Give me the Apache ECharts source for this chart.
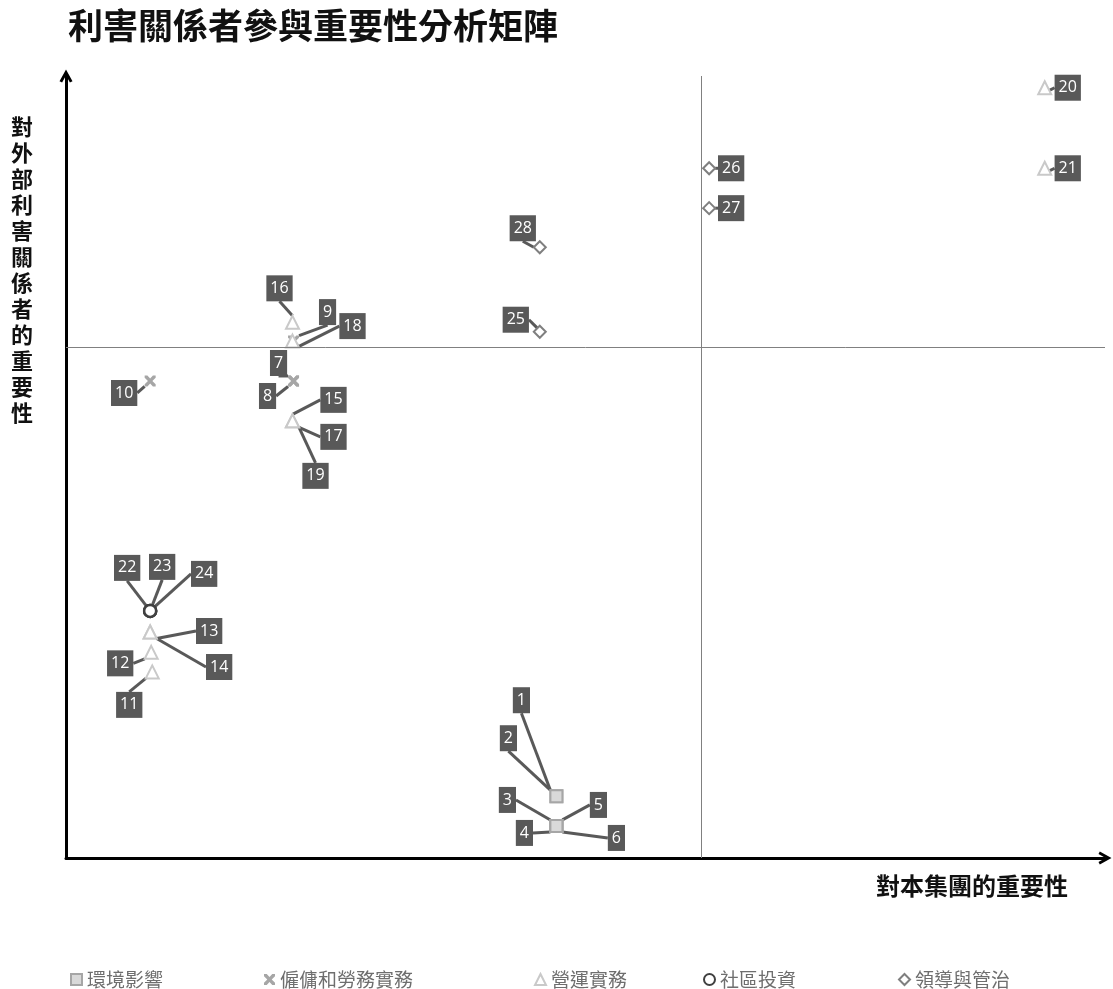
<!DOCTYPE html>
<html>
<head>
<meta charset="utf-8">
<script src="https://cdn.jsdelivr.net/npm/echarts@6/dist/echarts.min.js"></script>
<style>html,body{margin:0;padding:0;background:#fff;}#chart{width:1113px;height:989px;}</style>
</head>
<body>
<div id="chart"></div>
<script>
// ---- data (scores on a 0-10 scale) ----
const titleText = '利害關係者參與重要性分析矩陣';
const xAxisName = '對本集團的重要性';
const yAxisName = '對外部利害關係者的重要性';
const categories = ['環境影響', '僱傭和勞務實務', '營運實務', '社區投資', '領導與管治'];

const envIds = [1, 2, 3, 4, 5, 6];
const envX = [4.72, 4.72, 4.72, 4.72, 4.72, 4.72];
const envY = [0.79, 0.79, 0.41, 0.41, 0.41, 0.41];

const empIds = [7, 8, 9, 10];
const empX = [2.19, 2.19, 2.19, 0.81];
const empY = [6.10, 6.10, 6.61, 6.10];

const opsIds = [11, 12, 13, 14, 15, 16, 17, 18, 19, 20, 21];
const opsX = [0.83, 0.82, 0.81, 0.81, 2.18, 2.18, 2.18, 2.18, 2.18, 9.42, 9.42];
const opsY = [2.38, 2.63, 2.89, 2.89, 5.59, 6.85, 5.59, 6.61, 5.59, 9.85, 8.82];

const comIds = [22, 23, 24];
const comX = [0.81, 0.81, 0.81];
const comY = [3.16, 3.16, 3.16];

const govIds = [25, 26, 27, 28];
const govX = [4.56, 6.19, 6.19, 4.56];
const govY = [6.73, 8.82, 8.31, 7.81];

const xThreshold = 6.11;
const yThreshold = 6.53;

// ---- layout: callout label offsets (pixels from the point) ----
const calloutOffset = {
  1: [-35, -96], 2: [-48, -58], 3: [-49, -26], 4: [-32, 7], 5: [42, -21], 6: [60, 12],
  7: [-15, -18], 8: [-26, 15], 9: [34, -29], 10: [-26, 12],
  11: [-23, 33], 12: [-31, 11], 13: [59, -1], 14: [69, 35], 15: [41, -21], 16: [-13, -34],
  17: [41, 16], 18: [60, -15], 19: [23, 55], 20: [23, 0], 21: [23, 0],
  22: [-23, -43], 23: [12, -44], 24: [54, -37],
  25: [-24, -12], 26: [22, 0], 27: [22, 0], 28: [-17, -19]
};

function build(ids, xs, ys) {
  return ids.map((id, i) => [xs[i], ys[i], id]);
}

const xPath = 'path://M0,0 L2.5,0 L5,2.8 L7.5,0 L10,0 L10,2 L7,5 L10,8 L10,10 L7.5,10 L5,7.2 L2.5,10 L0,10 L0,8 L3,5 L0,2 Z';

const labelCommon = {
  show: true,
  position: 'inside',
  formatter: p => String(p.value[2]),
  backgroundColor: '#595959',
  color: '#ffffff',
  fontFamily: 'Open Sans',
  fontSize: 16,
  lineHeight: 18,
  padding: [4, 4, 4, 4]
};
const labelLineCommon = { show: true, lineStyle: { color: '#595959', width: 3 } };

function makeSeries(name, data, symbol, size, itemStyle) {
  return {
    name: name,
    type: 'scatter',
    data: data,
    symbol: symbol,
    symbolSize: size,
    itemStyle: itemStyle,
    label: labelCommon,
    labelLine: labelLineCommon,
    labelLayout: function (p) {
      const id = data[p.dataIndex][2];
      const o = calloutOffset[id] || [0, 0];
      return { dx: o[0], dy: o[1] };
    },
    emphasis: { disabled: true }
  };
}

const series = [
  makeSeries(categories[0], build(envIds, envX, envY), 'rect', 12,
    { color: '#d9d9d9', borderColor: '#a6a6a6', borderWidth: 2, opacity: 1 }),
  makeSeries(categories[1], build(empIds, empX, empY), xPath, 11,
    { color: '#a6a6a6', opacity: 1 }),
  makeSeries(categories[2], build(opsIds, opsX, opsY), 'triangle', 13,
    { color: '#ffffff', borderColor: '#c9c9c9', borderWidth: 2, opacity: 1 }),
  makeSeries(categories[3], build(comIds, comX, comY), 'circle', 12,
    { color: '#ffffff', borderColor: '#404040', borderWidth: 2.5, opacity: 1 }),
  makeSeries(categories[4], build(govIds, govX, govY), 'diamond', 12,
    { color: '#ffffff', borderColor: '#7f7f7f', borderWidth: 2, opacity: 1 })
];

series[0].markLine = {
  silent: true,
  symbol: 'none',
  label: { show: false },
  lineStyle: { color: '#808080', width: 1, type: 'solid' },
  data: [{ xAxis: xThreshold }, { yAxis: yThreshold }]
};

const legendLefts = [65, 259, 529, 698, 893];
const legends = categories.map((c, i) => ({
  data: [c],
  left: legendLefts[i],
  top: 965,
  itemWidth: 11,
  itemHeight: 11,
  selectedMode: false,
  textStyle: { fontSize: 19, color: '#6e6e6e', fontFamily: 'Noto Sans CJK TC' }
}));

const chevron = 'path://M0,9 L5,0 L10,9 L8,10 L5,4.6 L2,10 Z';
const axisLineCommon = {
  show: true,
  onZero: false,
  symbol: ['none', chevron],
  symbolSize: [15, 13],
  lineStyle: { color: '#000000', width: 3 }
};

const option = {
  backgroundColor: '#ffffff',
  animation: false,
  grid: { left: 66, right: 8, top: 76, bottom: 131 },
  xAxis: {
    type: 'value', min: 0, max: 10,
    axisLine: axisLineCommon,
    axisTick: { show: false }, axisLabel: { show: false }, splitLine: { show: false }
  },
  yAxis: {
    type: 'value', min: 0, max: 10,
    axisLine: axisLineCommon,
    axisTick: { show: false }, axisLabel: { show: false }, splitLine: { show: false }
  },
  legend: legends,
  graphic: [
    {
      type: 'text', left: 68, top: 8,
      style: { text: titleText, font: 'bold 35px "Noto Sans CJK TC"', fill: '#111111' }
    },
    {
      type: 'text', left: 11, top: 114,
      style: {
        text: yAxisName.split('').join('\n'),
        font: 'bold 22px "Noto Sans CJK TC"', lineHeight: 26, fill: '#111111', align: 'center'
      }
    },
    {
      type: 'text', left: 876, top: 874,
      style: { text: xAxisName, font: 'bold 24px "Noto Sans CJK TC"', fill: '#111111' }
    }
  ],
  series: series
};

const chart = echarts.init(document.getElementById('chart'), null, { renderer: 'canvas' });
chart.setOption(option);
</script>
</body>
</html>
